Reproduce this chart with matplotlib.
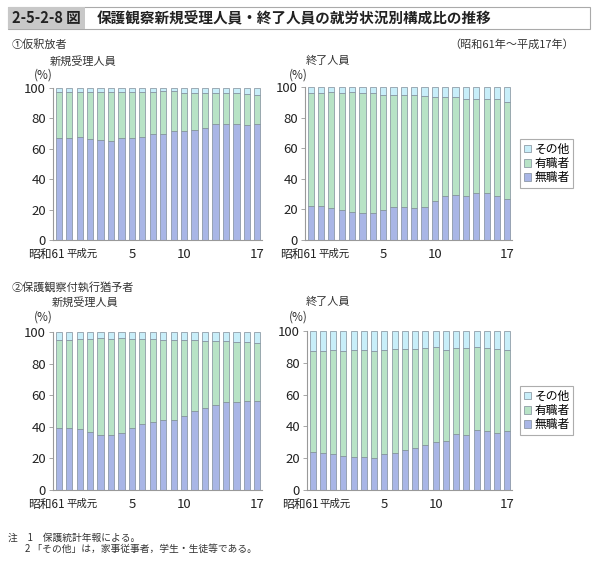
import matplotlib
matplotlib.use('Agg')
import numpy as np
import matplotlib.pyplot as plt
from matplotlib.patches import Rectangle, Patch
from matplotlib.transforms import ScaledTranslation

plt.rcParams['font.family'] = ['Noto Sans CJK JP', 'DejaVu Sans']

years = list(range(20))  # 昭和61年 ~ 平成17年
tick_pos = [0, 3, 7, 12, 19]
tick_labels = ['昭和61', '平成元', '5', '10', '17']
series_names = ['無職者', '有職者', 'その他']

# ① 仮釈放者 新規受理人員 (無職者, 無職者+有職者)
p1_unemp = [67, 67, 68, 66.5, 66, 65, 67, 67, 68, 69.5, 70, 72, 72, 72.5, 74, 76, 76, 76, 75.5, 76.5]
p1_top = [97.5, 97.5, 97.5, 97.5, 97.5, 97.5, 97.5, 97.5, 97.5, 97.5,
          98, 98, 97, 97, 97, 97, 97, 97, 96, 95.5]
# ① 仮釈放者 終了人員
p2_unemp = [22, 22, 21, 19.5, 18, 17.5, 17.5, 19.5, 21.5, 21.5,
            21, 21.5, 25.5, 28.5, 29.5, 29, 31, 30.5, 29, 27]
p2_top = [96, 96, 96.7, 96.3, 97, 96, 95.8, 95, 94.8, 94.6,
          94.6, 93.9, 93.2, 93.4, 93.4, 92.4, 92.1, 92.1, 91.9, 90.4]
# ② 保護観察付執行猶予者 新規受理人員
p3_unemp = [39.5, 39.5, 38.5, 36.5, 35, 35, 36, 39.5, 42, 43,
            44.5, 44, 47, 50, 52, 54, 55.5, 55.5, 56.5, 56.5]
p3_top = [95, 95, 95.5, 95.5, 96, 95.5, 96, 95.5, 95.5, 95.5,
          95, 95, 95, 95, 94, 94, 94.5, 93.5, 93.5, 93]
# ② 保護観察付執行猶予者 終了人員
p4_unemp = [24, 23.5, 22.5, 21.5, 20.5, 20.5, 20, 22.5, 23, 25,
            26.5, 28.5, 30, 31, 35, 34.5, 38, 37, 36, 37]
p4_top = [87.6, 87.2, 87.8, 87.6, 88.3, 88.3, 87.6, 87.8, 88.5, 88.5,
          88.9, 89.3, 89.7, 88.3, 89.1, 89.1, 89.7, 89.1, 88.7, 88.3]

c_unemp = '#a9b6e6'
c_emp = '#b8e3c6'
c_other = '#c8eef9'
edge = '#7f8c99'
axis_col = '#999999'

fig = plt.figure(figsize=(6.0, 5.63), dpi=100)


def draw_panel(rect, unemp, top, legend=False):
    ax = fig.add_axes(rect)
    x = np.array(years)
    unemp = np.array(unemp)
    top = np.array(top)
    emp = top - unemp
    other = 100 - top
    w = 0.6
    ax.bar(x, unemp, w, color=c_unemp, edgecolor=edge, linewidth=0.5)
    ax.bar(x, emp, w, bottom=unemp, color=c_emp, edgecolor=edge, linewidth=0.5)
    ax.bar(x, other, w, bottom=top, color=c_other, edgecolor=edge, linewidth=0.5)
    ax.set_xlim(-0.55, 19.45)
    ax.set_ylim(0, 100)
    ax.set_yticks(range(0, 101, 20))
    ax.set_xticks(tick_pos)
    ax.set_xticklabels(tick_labels)
    for s in ['top', 'right']:
        ax.spines[s].set_visible(False)
    for s in ['left', 'bottom']:
        ax.spines[s].set_color(axis_col)
        ax.spines[s].set_linewidth(0.8)
    ax.tick_params(axis='y', length=3, width=0.6, color=axis_col, labelsize=9.5, pad=2,
                   labelcolor='#222222')
    ax.tick_params(axis='x', length=0, labelsize=9.5, pad=6, labelcolor='#222222')
    # crowded labels sit a bit to the left in the original
    labs = ax.get_xticklabels()
    labs[0].set_fontsize(8.5)
    labs[1].set_fontsize(7.5)
    for lab, dx in zip(labs[:2], [-0.12, -0.08]):
        lab.set_transform(lab.get_transform() + ScaledTranslation(dx, 0, fig.dpi_scale_trans))
    if legend:
        handles = [Patch(facecolor=c_other, edgecolor=edge, linewidth=0.5),
                   Patch(facecolor=c_emp, edgecolor=edge, linewidth=0.5),
                   Patch(facecolor=c_unemp, edgecolor=edge, linewidth=0.5)]
        leg = ax.legend(handles, series_names[::-1], loc='center left',
                        bbox_to_anchor=(1.04, 0.5), fontsize=8.5, frameon=True,
                        fancybox=False, edgecolor=axis_col, handlelength=0.6,
                        handleheight=0.6, handletextpad=0.3, borderpad=0.3,
                        labelspacing=0.1, borderaxespad=0)
        leg.get_frame().set_linewidth(0.8)
    return ax


H = 563.0
W = 600.0


def fx(px):
    return px / W


def fy(py):
    return 1 - py / H


draw_panel([fx(53), fy(240), fx(209), (240 - 88) / H], p1_unemp, p1_top)
draw_panel([fx(305), fy(240), fx(207), (240 - 87) / H], p2_unemp, p2_top, legend=True)
draw_panel([fx(53), fy(490), fx(209), (490 - 332) / H], p3_unemp, p3_top)
draw_panel([fx(307), fy(490), fx(205), (490 - 331) / H], p4_unemp, p4_top, legend=True)

# title box
fig.patches.append(Rectangle((fx(8), fy(29)), fx(582), 22 / H, transform=fig.transFigure,
                             facecolor='white', edgecolor='#aaaaaa', linewidth=0.8))
fig.patches.append(Rectangle((fx(8), fy(29)), fx(77), 22 / H, transform=fig.transFigure,
                             facecolor='#c8c8c8', edgecolor='none'))
fig.text(fx(46), fy(18), '2-5-2-8 図', ha='center', va='center', fontsize=10.5,
         fontweight='bold', color='#222222')
fig.text(fx(97), fy(18), '保護観察新規受理人員・終了人員の就労状況別構成比の推移',
         ha='left', va='center', fontsize=10.5, fontweight='bold', color='#222222')

tc = '#333333'
fig.text(fx(12), fy(45), '①仮釈放者', ha='left', va='center', fontsize=8, color=tc)
fig.text(fx(574), fy(45), '（昭和61年～平成17年）', ha='right', va='center', fontsize=8, color=tc)
fig.text(fx(83), fy(61), '新規受理人員', ha='center', va='center', fontsize=8, color=tc)
fig.text(fx(328), fy(61), '終了人員', ha='center', va='center', fontsize=8, color=tc)
fig.text(fx(43), fy(75), '(%)', ha='center', va='center', fontsize=8.5, color=tc)
fig.text(fx(298), fy(75), '(%)', ha='center', va='center', fontsize=8.5, color=tc)

fig.text(fx(12), fy(287), '②保護観察付執行猶予者', ha='left', va='center', fontsize=8, color=tc)
fig.text(fx(85), fy(302), '新規受理人員', ha='center', va='center', fontsize=8, color=tc)
fig.text(fx(328), fy(302), '終了人員', ha='center', va='center', fontsize=8, color=tc)
fig.text(fx(43), fy(317), '(%)', ha='center', va='center', fontsize=8.5, color=tc)
fig.text(fx(298), fy(317), '(%)', ha='center', va='center', fontsize=8.5, color=tc)

fig.text(fx(8), fy(538), '注　1　保護統計年報による。', ha='left', va='center', fontsize=7, color=tc)
fig.text(fx(25), fy(549), '2 「その他」は，家事従事者，学生・生徒等である。', ha='left', va='center',
         fontsize=7, color=tc)

fig.savefig('out.png', dpi=100, facecolor='white')
